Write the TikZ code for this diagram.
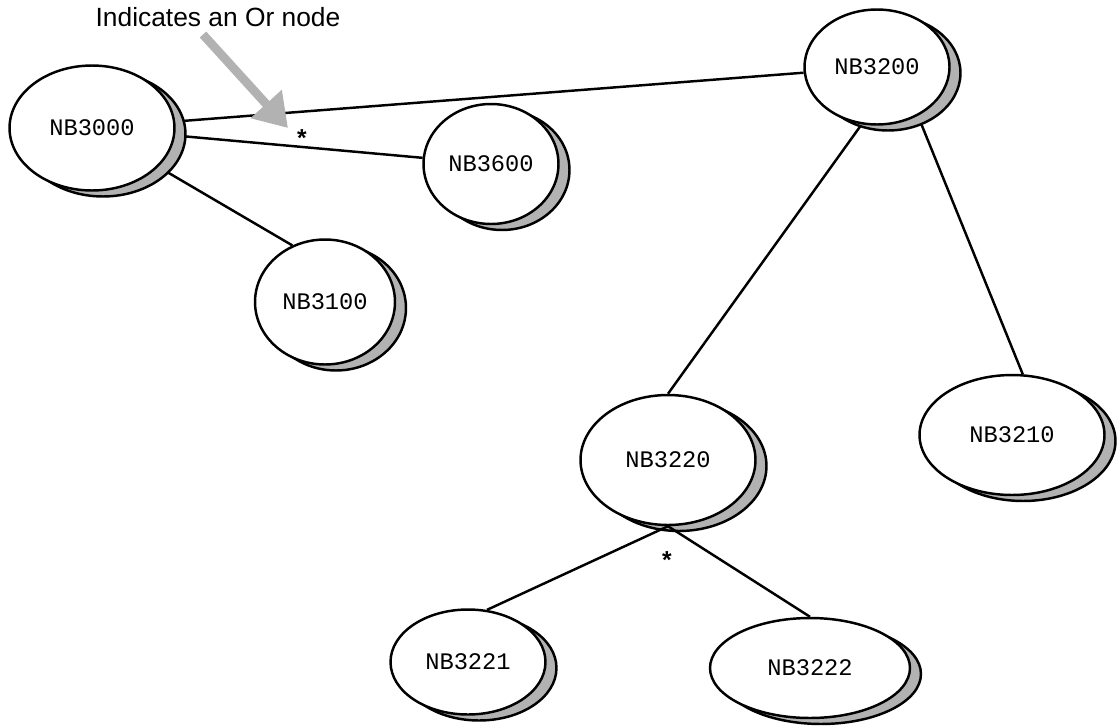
\documentclass[tikz,border=0pt]{standalone}
\usepackage{fontspec}
\setmainfont{Liberation Sans}
\newfontfamily\courierfont{Liberation Mono}
\usetikzlibrary{shapes.geometric,shadows,backgrounds,arrows.meta}

\begin{document}
\begin{tikzpicture}[
        x=0.02cm, y=-0.02cm, % 1 пиксель исходника
        nbnode/.style = {ellipse, draw, line width=1.4pt, fill=white, inner sep=0pt,
                copy shadow={shadow xshift=0.22cm, shadow yshift=-0.12cm, fill=black!30, draw=black, line width=1.4pt},
                font=\courierfont\fontsize{13.5}{16}\selectfont}, % Стиль узлов
        link/.style = {draw, line width=1.4pt}, % Линии связей
        ormark/.style = {font=\bfseries\fontsize{14}{14}\selectfont, inner sep=0pt}, % Звездочка
    ]
    \useasboundingbox (0,0) rectangle (1119,727);

    \node[nbnode, minimum width=3.3cm, minimum height=2.5cm] (n3000) at (92,128) {NB3000};
    \node[nbnode, minimum width=2.7cm, minimum height=2.4cm] (n3600) at (491,164) {NB3600};
    \node[nbnode, minimum width=2.8cm, minimum height=2.5cm] (n3100) at (325,302) {NB3100};
    \node[nbnode, minimum width=2.9cm, minimum height=2.3cm] (n3200) at (877,67) {NB3200};
    \node[nbnode, minimum width=3.5cm, minimum height=2.6cm] (n3220) at (668,460) {NB3220};
    \node[nbnode, minimum width=3.7cm, minimum height=2.4cm] (n3210) at (1012,435) {NB3210};
    \node[nbnode, minimum width=3.1cm, minimum height=2.1cm] (n3221) at (468,662) {NB3221};
    \node[nbnode, minimum width=4.0cm, minimum height=2.0cm] (n3222) at (810,668) {NB3222};

    \node[ormark] (or1) at (302,138) {*};
    \node[ormark] (or2) at (667,560) {*};

    \node[font=\fontsize{15}{18}\selectfont, inner sep=0pt] (hint) at (218,17) {Indicates an Or node};
    \coordinate (hinttip) at (288,128);

    \begin{scope}[on background layer]
        \draw[link] (n3000) -- (n3200);
        \draw[link] (n3000) -- (n3600);
        \draw[link] (n3000) -- (n3100.120);
        \draw[link] (n3200.-105) -- (n3220.north);
        \draw[link] (n3200.-50) -- (n3210.80);
    \end{scope}
    \draw[link] (n3220.south) -- (n3221.70);
    \draw[link] (n3220.south) -- (n3222.north);

    \draw[black!30, line width=5pt, -{Triangle[width=0.8cm, length=0.65cm]}]
        ([xshift=-0.3cm, yshift=-0.15cm]hint.south) -- (hinttip);
\end{tikzpicture}
\end{document}
